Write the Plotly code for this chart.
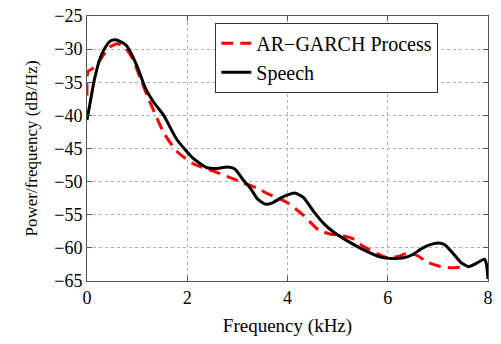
import plotly.graph_objects as go

speech_f = [0, 0.06, 0.15, 0.26, 0.36, 0.46, 0.55, 0.65, 0.79, 0.99, 1.16, 1.32, 1.53, 1.79, 2.12,
            2.4, 2.6, 2.8, 2.95, 3.12, 3.26, 3.4, 3.56, 3.7, 3.86, 4.0, 4.14, 4.32, 4.52, 4.72,
            4.9, 5.12, 5.52, 5.86, 6.1, 6.32, 6.5, 6.7, 6.9, 7.05, 7.15, 7.3, 7.46, 7.62, 7.8,
            7.93, 7.97, 8.0]
speech_db = [-40.7, -38.2, -34.5, -31.4, -29.8, -28.8, -28.6, -28.8, -29.5, -32.4, -35.8, -37.9,
             -40.0, -43.6, -46.5, -47.9, -48.0, -47.8, -48.1, -49.8, -51.0, -52.6, -53.4, -53.2,
             -52.5, -52.0, -51.7, -52.4, -54.5, -56.3, -57.5, -58.6, -60.3, -61.4, -61.6, -61.5,
             -61.0, -60.0, -59.4, -59.3, -59.6, -60.8, -62.2, -62.8, -62.2, -61.7, -62.5, -64.7]

argarch_f = [0, 0.02, 0.1, 0.2, 0.3, 0.45, 0.6, 0.75, 0.9, 1.06, 1.2, 1.32, 1.53, 1.8, 2.12,
             2.52, 2.92, 3.12, 3.4, 3.6, 4.0, 4.32, 4.62, 4.85, 5.12, 5.3, 5.52, 5.8, 6.0, 6.2,
             6.4, 6.6, 6.8, 7.05, 7.26, 7.46, 7.62]
argarch_db = [-37.0, -33.4, -33.0, -32.3, -31.2, -29.7, -29.2, -29.7, -31.3, -34.3, -37.0, -39.1,
              -42.6, -45.5, -47.3, -48.4, -49.6, -50.2, -51.0, -51.8, -53.2, -55.1, -57.3, -57.9,
              -58.2, -58.6, -59.8, -60.9, -61.5, -61.3, -60.8, -61.2, -62.2, -62.8, -63.0, -62.9,
              -62.8]

x_ticks = [0, 2, 4, 6, 8]
y_ticks = [-65, -60, -55, -50, -45, -40, -35, -30, -25]

font = "Liberation Serif"

fig = go.Figure()
fig.add_trace(go.Scatter(x=argarch_f, y=argarch_db, mode="lines", name="AR\u2212GARCH Process",
                         line=dict(color="#ff0000", width=3, dash="12px,7px", shape="spline", smoothing=0.6)))
fig.add_trace(go.Scatter(x=speech_f, y=speech_db, mode="lines", name="Speech",
                         line=dict(color="black", width=3, shape="spline", smoothing=0.6)))

axis_common = dict(showline=True, mirror="ticks", linecolor="#555", linewidth=1,
                   ticks="inside", ticklen=5, tickcolor="#555",
                   showgrid=True, gridcolor="#b0b0b0", griddash="dot", gridwidth=1,
                   zeroline=False, ticklabeloverflow="allow",
                   tickfont=dict(family=font, size=18, color="black"))

fig.update_xaxes(range=[0, 8], tickvals=x_ticks,
                 title=dict(text="Frequency (kHz)", font=dict(family=font, size=19, color="black"), standoff=12),
                 **axis_common)
fig.update_yaxes(range=[-65, -25], tickvals=y_ticks,
                 title=dict(text="Power/frequency (dB/Hz)", font=dict(family=font, size=17, color="black"), standoff=12),
                 **axis_common)

fig.update_layout(
    width=501, height=344,
    margin=dict(l=87, r=13, t=6, b=63),
    plot_bgcolor="white", paper_bgcolor="white",
    showlegend=True,
    legend=dict(x=0.32, y=0.975, xanchor="left", yanchor="top",
                bgcolor="white", bordercolor="#333", borderwidth=1,
                font=dict(family=font, size=20, color="black"),
                tracegroupgap=0, itemwidth=30),
)

fig.write_html("out.html")
